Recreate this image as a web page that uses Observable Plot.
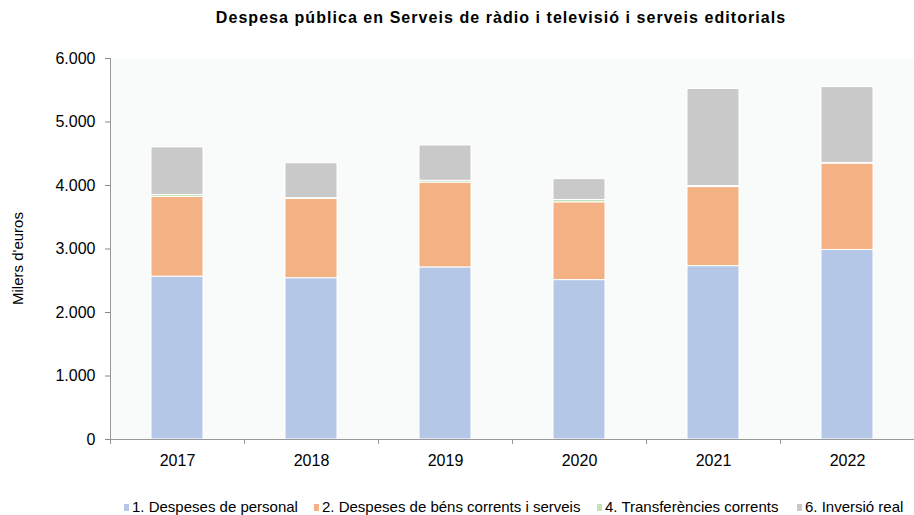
<!DOCTYPE html>
<html>
<head>
<meta charset="utf-8">
<script src="https://cdn.jsdelivr.net/npm/d3@7"></script>
<script src="https://cdn.jsdelivr.net/npm/@observablehq/plot@0.6"></script>
<style>
  body { margin: 0; background: #ffffff; font-family: "Liberation Sans", Arial, sans-serif; }
  #wrap { position: relative; width: 914px; height: 515px; overflow: hidden; }
  #title { position: absolute; left: 0; top: 9px; width: 1002px; text-align: center; font-weight: bold; font-size: 16px; letter-spacing: 1.05px; color: #000; }
  #chart { position: absolute; left: 0; top: 38px; }
  .lg { position: absolute; top: 498px; font-size: 15px; color: #000; white-space: nowrap; line-height: 18px; }
  .sw { display: inline-block; width: 5px; height: 7px; margin-right: 3px; vertical-align: 1px; }
</style>
</head>
<body>
<div id="wrap">
  <div id="title">Despesa pública en Serveis de ràdio i televisió i serveis editorials</div>
  <div id="chart"></div>
  <div id="legend"></div>
</div>
<script>
const years = ["2017", "2018", "2019", "2020", "2021", "2022"];
const seriesNames = [
  "1. Despeses de personal",
  "2. Despeses de béns corrents i serveis",
  "4. Transferències corrents",
  "6. Inversió real"
];
const personal    = [2565, 2540, 2710, 2510, 2730, 2985];
const bensCorrents = [1255, 1250, 1335, 1225, 1245, 1360];
const transferencies = [30, 10, 30, 37, 15, 10];
const inversio    = [750, 550, 555, 328, 1530, 1195];
const seriesColors = ["#b4c7e7", "#f4b183", "#c5e0b4", "#c9c9c9"];
const yTicks = [0, 1000, 2000, 3000, 4000, 5000, 6000];
const yLabel = "Milers d'euros";

const seriesValues = [personal, bensCorrents, transferencies, inversio];
const data = [];
seriesNames.forEach((s, i) => {
  years.forEach((y, j) => data.push({year: y, series: s, value: seriesValues[i][j]}));
});

const fmt = d => d3.format(",")(d).replace(/,/g, ".");

const chart = Plot.plot({
  width: 914,
  height: 440,
  marginLeft: 110,
  marginRight: 0,
  marginTop: 20,
  marginBottom: 39,
  style: {fontFamily: "Liberation Sans, Arial, sans-serif", fontSize: "15px", color: "#000", background: "transparent"},
  x: {domain: years, paddingInner: 0.613, paddingOuter: 0.3065, align: 0.5, label: null, axis: null},
  y: {domain: [0, 6000], ticks: yTicks, label: null, axis: null},
  color: {domain: seriesNames, range: seriesColors},
  marks: [
    Plot.frame({fill: "#f9fbfb", stroke: null}),
    Plot.barY(data, {x: "year", y: "value", fill: "series", stroke: "white", strokeWidth: 1, order: seriesNames}),
    Plot.axisY({ticks: yTicks, tickFormat: fmt, tickSize: 5, tickPadding: 10, stroke: "#888", fontSize: 16, label: null}),
    Plot.ruleY([0], {stroke: "#999", strokeWidth: 1}),
    Plot.axisX({tickSize: 0, tickPadding: 15, fontSize: 16, label: null}),
    Plot.text([yLabel], {y: () => 2850, frameAnchor: "left", dx: -92, rotate: -90, textAnchor: "middle", fontSize: 15, fill: "#000", text: d => d})
  ]
});
document.getElementById("chart").appendChild(chart);

// Axis line and boundary ticks between categories (from the chart's own scales)
const xs = chart.scale("x");
const ySc = chart.scale("y");
const svg = d3.select(chart);
const gap = (xs.step - xs.bandwidth) / 2;
const boundaries = years.map(y => xs.apply(y) - gap);
const y0 = ySc.apply(0);
const g = svg.append("g").attr("stroke", "#999").attr("shape-rendering", "crispEdges");
boundaries.forEach(x => g.append("line").attr("x1", x).attr("x2", x).attr("y1", y0).attr("y2", y0 + 5));
g.append("line").attr("x1", boundaries[0]).attr("x2", boundaries[0]).attr("y1", ySc.apply(6000)).attr("y2", y0);

// Legend
const legendPos = [124, 314, 597, 797];
const legend = document.getElementById("legend");
seriesNames.forEach((s, i) => {
  const d = document.createElement("div");
  d.className = "lg";
  d.style.left = legendPos[i] + "px";
  d.innerHTML = `<span class="sw" style="background:${seriesColors[i]}"></span>${s}`;
  legend.appendChild(d);
});
</script>
</body>
</html>
